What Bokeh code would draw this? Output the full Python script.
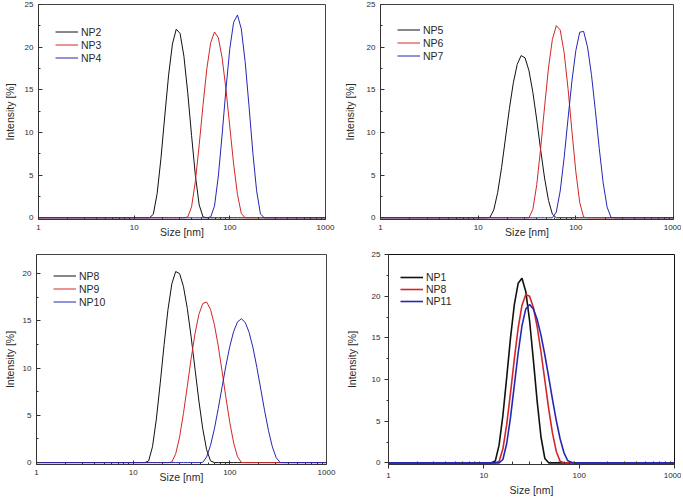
from bokeh.plotting import figure
from bokeh.layouts import column, row
from bokeh.models import Range1d, FixedTicker, Legend, LegendItem
from bokeh.embed import file_html
from bokeh.resources import INLINE

# ---------------- data ----------------
# hydrodynamic size bins [nm]
SIZE_NM = [1, 10.0, 10.96, 12.02, 13.18, 14.45, 15.85, 17.38, 19.05, 20.89, 22.91,
           25.12, 27.54, 30.20, 33.11, 36.31, 39.81, 43.65, 47.86, 52.48, 57.54,
           63.10, 69.18, 75.86, 83.18, 91.20, 100.0, 109.6, 120.2, 131.8, 144.5,
           158.5, 173.8, 190.5, 208.9, 229.1, 251.2, 275.4, 302.0, 331.1, 363.1,
           398.1, 1000]

# intensity [%] per bin
NP1 = [0, 0, 0, 0, 0.21, 2.12, 5.69, 10.26, 14.99, 18.99, 21.54, 22.16, 20.57, 17.05,
       12.3, 7.31, 3.07, 0.52, 0, 0, 0, 0, 0, 0, 0, 0, 0, 0, 0, 0, 0, 0, 0, 0, 0, 0, 0,
       0, 0, 0, 0, 0, 0]
NP2 = [0, 0, 0, 0, 0, 0, 0.41, 2.84, 6.95, 11.93, 16.72, 20.37, 22.11, 21.6, 18.93,
       14.65, 9.65, 4.94, 1.5, 0.1, 0, 0, 0, 0, 0, 0, 0, 0, 0, 0, 0, 0, 0, 0, 0, 0, 0, 0,
       0, 0, 0, 0, 0]
NP3 = [0, 0, 0, 0, 0, 0, 0, 0, 0, 0, 0, 0, 0, 0, 0, 0.1, 1.28, 4.3, 8.56, 13.24, 17.5,
       20.53, 21.78, 21.1, 18.71, 15.02, 10.63, 6.28, 2.72, 0.51, 0, 0, 0, 0, 0, 0, 0, 0,
       0, 0, 0, 0, 0]
NP4 = [0, 0, 0, 0, 0, 0, 0, 0, 0, 0, 0, 0, 0, 0, 0, 0, 0, 0, 0, 0, 0, 0.1, 1.39, 4.9,
       9.82, 15.16, 19.85, 22.92, 23.77, 22.14, 18.32, 13.14, 7.69, 3.16, 0.46, 0, 0, 0,
       0, 0, 0, 0, 0]
NP5 = [0, 0, 0, 0, 0.05, 0.92, 2.97, 5.92, 9.36, 12.81, 15.83, 17.99, 19.01, 18.75,
       17.25, 14.7, 11.46, 7.95, 4.66, 2.04, 0.42, 0, 0, 0, 0, 0, 0, 0, 0, 0, 0, 0, 0, 0,
       0, 0, 0, 0, 0, 0, 0, 0, 0]
NP6 = [0, 0, 0, 0, 0, 0, 0, 0, 0, 0, 0, 0, 0, 0, 0, 1.0, 3.9, 8.15, 13.01, 17.55, 20.92,
       22.52, 22.01, 19.38, 15.15, 10.16, 5.4, 1.78, 0.08, 0, 0, 0, 0, 0, 0, 0, 0, 0, 0,
       0, 0, 0, 0]
NP7 = [0, 0, 0, 0, 0, 0, 0, 0, 0, 0, 0, 0, 0, 0, 0, 0, 0, 0, 0, 0, 0, 0.67, 3.15, 7.02,
       11.6, 16.04, 19.6, 21.75, 21.85, 20.01, 16.79, 12.58, 8.11, 4.11, 1.26, 0.05, 0,
       0, 0, 0, 0, 0, 0]
NP8 = [0, 0, 0, 0, 0, 0.17, 1.68, 4.61, 8.39, 12.47, 16.18, 18.89, 20.2, 19.98, 18.63,
       16.3, 13.27, 9.88, 6.51, 3.56, 1.37, 0.18, 0, 0, 0, 0, 0, 0, 0, 0, 0, 0, 0, 0, 0,
       0, 0, 0, 0, 0, 0, 0, 0]
NP9 = [0, 0, 0, 0, 0, 0, 0, 0, 0, 0, 0, 0.06, 0.93, 2.69, 5.19, 8.07, 11.01, 13.65,
       15.67, 16.82, 16.98, 16.2, 14.6, 12.33, 9.64, 6.84, 4.22, 2.07, 0.61, 0.02, 0, 0,
       0, 0, 0, 0, 0, 0, 0, 0, 0, 0, 0]
NP10 = [0, 0, 0, 0, 0, 0, 0, 0, 0, 0, 0, 0, 0, 0, 0, 0, 0, 0, 0, 0.03, 0.6, 1.82, 3.56,
        5.7, 8.01, 10.28, 12.29, 13.88, 14.88, 15.2, 14.81, 13.75, 12.12, 10.06, 7.77,
        5.47, 3.37, 1.66, 0.51, 0.02, 0, 0, 0]
NP11 = [0, 0, 0, 0, 0, 0, 0.4, 2.32, 5.45, 9.3, 13.18, 16.43, 18.47, 18.99, 18.45, 17.19,
        15.3, 12.94, 10.31, 7.61, 5.07, 2.89, 1.23, 0.25, 0.08, 0, 0, 0, 0, 0, 0, 0, 0, 0,
        0, 0, 0, 0, 0, 0, 0, 0, 0]

for _s in (NP1, NP2, NP3, NP4, NP5, NP6, NP7, NP8, NP9, NP10, NP11):
    assert len(_s) == len(SIZE_NM)

X_TICKS = [1, 10, 100, 1000]
X_TICK_LABELS = ["1", "10", "100", "1000"]
X_MINOR = [2, 3, 4, 5, 6, 7, 8, 9, 20, 30, 40, 50, 60, 70, 80, 90,
           200, 300, 400, 500, 600, 700, 800, 900]
Y_TICKS_25 = [0, 5, 10, 15, 20, 25]
Y_TICKS_20 = [0, 5, 10, 15, 20]
Y_MINOR = [2.5, 7.5, 12.5, 17.5, 22.5]

X_LABEL = "Size [nm]"
Y_LABEL = "Intensity [%]"

FONT = "Liberation Sans"
BLACK = "#111111"
RED = "#d42626"
BLUE = "#2626b4"
TXT = "#2a2a2a"


def panel(names, series, colors, y_end, y_ticks, w, h, bl, br, bt, bb,
          origin_style, ylab_standoff, leg_x, leg_top, leg_pitch, line_w):
    p = figure(x_axis_type="log", width=w, height=h,
               min_border_left=bl, min_border_right=br, min_border_top=bt,
               min_border_bottom=bb, output_backend="svg", toolbar_location=None,
               x_range=Range1d(1, 1000), y_range=Range1d(-0.2, y_end))
    p.grid.visible = False
    p.background_fill_color = "white"
    p.border_fill_color = "white"
    p.outline_line_color = "#444444" if origin_style else "#111111"
    p.outline_line_width = 1

    items = []
    for name, ys, col in zip(names, series, colors):
        r = p.line(SIZE_NM, ys, line_color=col, line_width=line_w)
        items.append(LegendItem(label=name, renderers=[r]))

    xa = p.xaxis[0]
    ya = p.yaxis[0]
    xa.ticker = FixedTicker(ticks=X_TICKS, minor_ticks=X_MINOR)
    xa.major_label_overrides = {t: l for t, l in zip(X_TICKS, X_TICK_LABELS)}
    ya.ticker = FixedTicker(ticks=y_ticks, minor_ticks=Y_MINOR)
    for ax in (xa, ya):
        ax.axis_line_color = "#333333"
        ax.major_tick_line_color = "#333333"
        ax.minor_tick_line_color = "#333333"
        ax.major_label_text_font = FONT
        ax.major_label_text_font_size = "8px"
        ax.major_label_text_color = TXT
        ax.axis_label_text_font = FONT
        ax.axis_label_text_font_size = "10.5px"
        ax.axis_label_text_font_style = "normal"
        ax.axis_label_text_color = TXT
    xa.axis_label = X_LABEL
    ya.axis_label = Y_LABEL
    ya.axis_label_standoff = ylab_standoff
    if origin_style:
        for ax in (xa, ya):
            ax.major_tick_in = 4
            ax.major_tick_out = 0
            ax.minor_tick_in = 2
            ax.minor_tick_out = 0
        xa.major_label_standoff = 5
        xa.axis_label_standoff = -7
        ya.major_label_standoff = 5
    else:
        xa.major_tick_in = 0
        xa.major_tick_out = 4
        xa.minor_tick_in = 3
        xa.minor_tick_out = 0
        ya.major_tick_in = 0
        ya.major_tick_out = 4
        ya.minor_tick_in = 0
        ya.minor_tick_out = 2
        xa.major_label_standoff = 4
        xa.axis_label_standoff = 3
        ya.major_label_standoff = 4

    fh = h - bt - bb
    n = len(items)
    leg_h = n * leg_pitch
    legend = Legend(items=items, location=(leg_x, fh - leg_top - leg_h),
                    margin=0, padding=0, spacing=0,
                    glyph_width=23, glyph_height=leg_pitch, label_height=leg_pitch,
                    label_standoff=3, label_text_font=FONT,
                    label_text_font_size="10.5px", label_text_color=TXT,
                    background_fill_alpha=0, border_line_alpha=0)
    p.add_layout(legend)
    return p


p1 = panel(["NP2", "NP3", "NP4"], [NP2, NP3, NP4], [BLACK, RED, BLUE], 25, Y_TICKS_25,
           w=340, h=250, bl=33, br=15, bt=4, bb=31, origin_style=True, ylab_standoff=6,
           leg_x=17, leg_top=21, leg_pitch=13, line_w=1)
p2 = panel(["NP5", "NP6", "NP7"], [NP5, NP6, NP7], [BLACK, RED, BLUE], 25, Y_TICKS_25,
           w=341, h=250, bl=38, br=8, bt=4, bb=31, origin_style=True, ylab_standoff=8,
           leg_x=17, leg_top=19, leg_pitch=13, line_w=1)
p3 = panel(["NP8", "NP9", "NP10"], [NP8, NP9, NP10], [BLACK, RED, BLUE], 22.0, Y_TICKS_20,
           w=340, h=248, bl=31, br=14, bt=4, bb=34, origin_style=True, ylab_standoff=4,
           leg_x=17, leg_top=15, leg_pitch=13, line_w=1)
p4 = panel(["NP1", "NP8", "NP11"], [NP1, NP8, NP11], [BLACK, RED, BLUE], 25, Y_TICKS_25,
           w=341, h=248, bl=48, br=7, bt=4, bb=34, origin_style=False, ylab_standoff=11,
           leg_x=12, leg_top=17, leg_pitch=12, line_w=1.6)

layout = column(row(p1, p2), row(p3, p4))
open("out.html", "w").write(file_html(layout, INLINE))
